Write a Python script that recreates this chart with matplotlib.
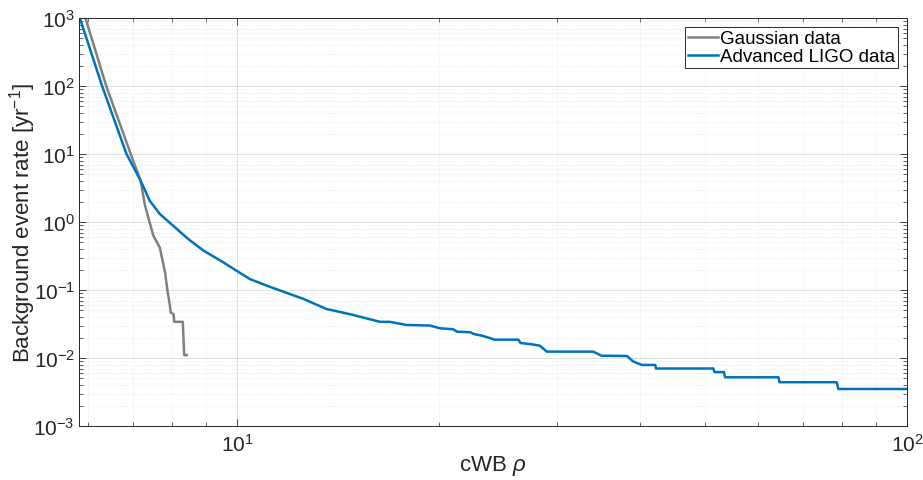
import matplotlib
matplotlib.use('Agg')
import matplotlib.pyplot as plt
import numpy as np

plt.rcParams['font.family'] = ['Liberation Sans', 'DejaVu Sans']
plt.rcParams['mathtext.fontset'] = 'custom'
plt.rcParams['mathtext.rm'] = 'Liberation Sans'
plt.rcParams['mathtext.it'] = 'Liberation Sans:italic'

# Gaussian data
gauss_rho = [5.94, 6.38, 6.94, 7.18, 7.29, 7.50, 7.67, 7.81, 7.88, 7.94,
             7.96, 8.04, 8.06, 8.30, 8.34, 8.41]
gauss_rate = [1000, 100, 10, 4.05, 1.74, 0.63, 0.42, 0.18, 0.093, 0.059,
              0.047, 0.044, 0.034, 0.034, 0.011, 0.011]

# Advanced LIGO data
ligo_rho = [5.81, 6.29, 6.84, 7.18, 7.41, 7.67, 8.03, 8.46, 8.91, 9.54,
            10.0, 10.45, 11.07, 12.0, 12.56, 13.6, 14.75, 16.35, 16.9, 17.9,
            19.4, 20.1, 21.0, 21.3, 22.3, 22.6, 23.2, 23.9, 24.2, 26.3,
            26.5, 27.4, 28.3, 29.0, 34.0, 35.0, 38.2, 39.0, 40.2, 42.1,
            42.2, 51.4, 51.6, 53.3, 53.5, 64.3, 64.5, 78.5, 79.0, 100]
ligo_rate = [1090, 100, 10, 4.05, 2.05, 1.31, 0.88, 0.56, 0.38, 0.255,
             0.19, 0.145, 0.116, 0.087, 0.074, 0.0525, 0.044, 0.034, 0.034, 0.0306,
             0.030, 0.0273, 0.0265, 0.0244, 0.0239, 0.0224, 0.0213, 0.0195, 0.0186, 0.0186,
             0.0166, 0.016, 0.0152, 0.0124, 0.0124, 0.0108, 0.0107, 0.0089, 0.0079, 0.0079,
             0.0070, 0.0070, 0.0062, 0.0062, 0.0052, 0.0052, 0.0044, 0.0044, 0.0035, 0.0035]

fig = plt.figure(figsize=(9.23, 4.81), dpi=100)
ax = fig.add_axes([0.0856, 0.1123, 0.8971, 0.8482])

ax.plot(gauss_rho, gauss_rate, color='#808080', lw=1.8, label='Gaussian data')
ax.plot(ligo_rho, ligo_rate, color='#0072BD', lw=1.8, label='Advanced LIGO data')

ax.set_xscale('log')
ax.set_yscale('log')
ax.set_xlim(5.81, 100)
ax.set_ylim(1e-3, 1e3)

ax.grid(which='major', color='#d9d9d9', lw=0.6, ls='-')
ax.grid(which='minor', color='#e3e3e3', lw=0.5, ls=':')
ax.set_axisbelow(True)

ax.tick_params(which='both', direction='in', top=True, right=True,
               color='#262626', labelsize=15, labelcolor='#262626')
ax.tick_params(which='major', length=5, width=0.6, pad=3)
ax.tick_params(which='minor', length=3, width=0.5)
ax.tick_params(axis='x', which='major', pad=5)
ax.yaxis.set_minor_locator(matplotlib.ticker.LogLocator(base=10, subs=np.arange(2, 10), numticks=20))
ax.yaxis.set_minor_formatter(matplotlib.ticker.NullFormatter())
ax.xaxis.set_minor_formatter(matplotlib.ticker.NullFormatter())
for s in ax.spines.values():
    s.set_color('#262626')
    s.set_linewidth(0.7)

ax.set_xlabel(r'cWB $\it{\rho}$', fontsize=16, color='#262626', labelpad=-1)
ax.set_ylabel(r'Background event rate [yr$^{\mathregular{-1}}$]', fontsize=16,
              color='#262626', labelpad=-3)

leg = ax.legend(loc='upper right', fontsize=13.5, fancybox=False, framealpha=1,
                edgecolor='#262626', handlelength=1.6, handletextpad=0.1,
                borderpad=0.15, labelspacing=0.05, borderaxespad=0.5)
leg.get_frame().set_linewidth(0.7)

fig.savefig('out.png', dpi=100)
